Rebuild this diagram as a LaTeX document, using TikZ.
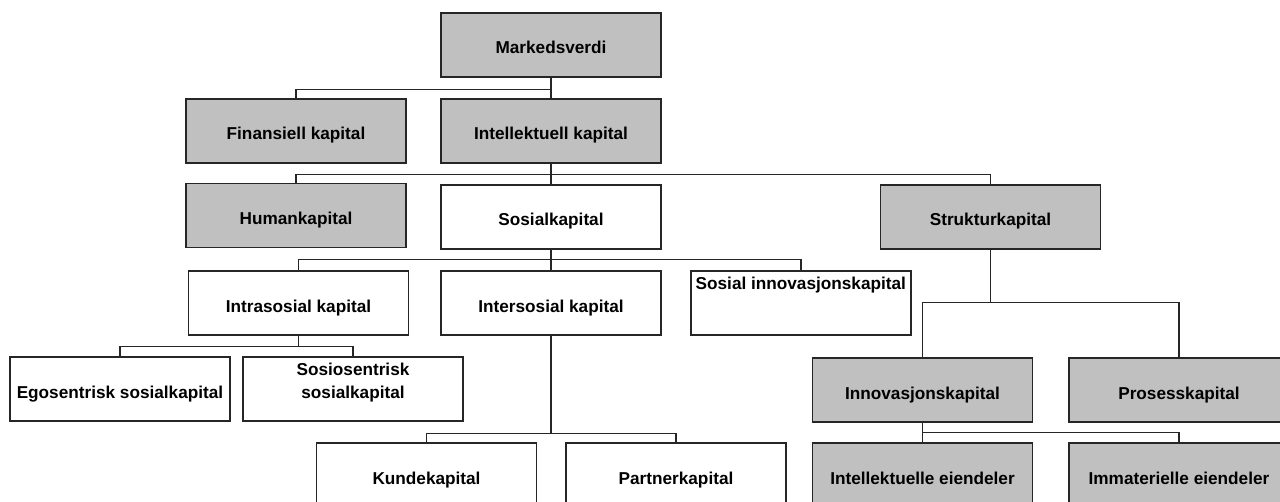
\documentclass[tikz,border=0pt]{standalone}
\usepackage{fontspec}
\setmainfont{Liberation Sans}
\definecolor{boxgray}{HTML}{C0C0C0}

\begin{document}
\begin{tikzpicture}[x=0.75pt,y=-0.75pt,
  kap/.style={draw=black!85,line width=1.2pt,fill=white,minimum width=165pt,minimum height=48pt,
    inner sep=0pt,text height=13.5pt,text depth=0pt,font=\fontsize{12.9pt}{17.25pt}\selectfont\bfseries},
  graakap/.style={kap,fill=boxgray},
  gren/.style={draw=black!85,line width=1pt}]
\useasboundingbox (0,0) rectangle (1280,502);
\clip (0,0) rectangle (1280,502);
% rad 1 og 2
\node[graakap] (mv) at (551,45) {Markedsverdi};
\node[graakap] (fin) at (296,131) {Finansiell kapital};
\node[graakap] (int) at (551,131) {Intellektuell kapital};
% rad 3
\node[graakap] (hum) at (296,215.5) {Humankapital};
\node[kap] (sos) at (551,217) {Sosialkapital};
\node[graakap] (str) at (990.5,217) {Strukturkapital};
% rad 4
\node[kap] (intra) at (298.5,303) {Intrasosial kapital};
\node[kap] (inter) at (551,303) {Intersosial kapital};
\node[kap,text height=0pt,text depth=21pt] (sinn) at (801,303) {\hbox to 158pt{Sosial innovasjonskapital\hfil}};
% rad 5
\node[kap] (ego) at (120,389) {Egosentrisk sosialkapital};
\node[kap] (sosio) at (353,389) {\vbox{\halign{\hfil#\hfil\cr Sosiosentrisk\cr sosialkapital\cr}}};
\node[graakap] (inno) at (922.5,390) {Innovasjonskapital};
\node[graakap] (pros) at (1179,390) {Prosesskapital};
% rad 6
\node[kap] (kunde) at (426.5,475) {Kundekapital};
\node[kap] (part) at (676,475) {Partnerkapital};
\node[graakap] (ie) at (922.5,475) {Intellektuelle eiendeler};
\node[graakap] (ime) at (1179,475) {Immaterielle eiendeler};
% greiner
\foreach \p/\c/\d in {mv/fin/12,mv/int/12,int/hum/11,int/sos/11,int/str/11,
  sos/intra/10,sos/inter/10,sos/sinn/10,intra/ego/11,intra/sosio/11,
  inter/kunde/98,inter/part/98,str/inno/53,str/pros/53,inno/ie/10,inno/ime/10}
\draw[gren] (\p.south) -- ++(0,\d) -| (\c.north);
\end{tikzpicture}
\end{document}
